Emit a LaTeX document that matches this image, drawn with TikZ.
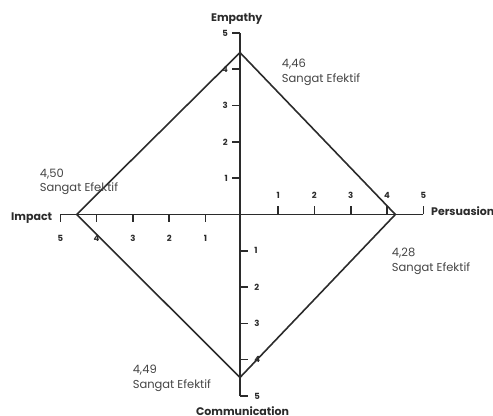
\documentclass[tikz,border=0pt]{standalone}
\usepackage{fontspec}
\setmainfont{Poppins}
\definecolor{ink}{HTML}{2B2B2B}
\definecolor{note}{HTML}{454545}
\tikzset{
  axisline/.style={line width=1.6pt, ink},
  ticklabel/.style={font=\fontsize{8.5}{9}\selectfont\bfseries, ink, inner sep=0pt},
  axislabel/.style={font=\fontsize{11}{12}\selectfont\bfseries, ink, inner sep=0pt},
  scorelabel/.style={font=\fontsize{11.5}{14.4}\selectfont, note, align=left, anchor=north west, inner sep=0pt}
}
\begin{document}
\begin{tikzpicture}[x=36.3pt,y=36.3pt]
  \useasboundingbox (-6.612,-5.551) rectangle (6.970,5.909);
  % axis ends
  \coordinate (imp) at (-4.95,0);
  \coordinate (per) at (5.05,0);
  \coordinate (emp) at (0,5);
  \coordinate (com) at (0,-5);
  \draw[axisline] (imp) -- (per);
  \draw[axisline] (com) -- (emp);
  % ticks and numbers
  \foreach \k in {1,...,5} {
    \draw[axisline] ({\k+0.05},0) -- ++(0,0.22);
    \node[ticklabel] at ({\k+0.05},0.52) {\k};
    \draw[axisline] ({-\k+0.05},0) -- ++(0,-0.22);
    \node[ticklabel] at ({-\k+0.05},-0.67) {\k};
    \draw[axisline] (0,\k) -- ++(-0.22,0);
    \node[ticklabel,anchor=east] at (-0.33,\k) {\k};
    \draw[axisline] (0,-\k) -- ++(0.22,0);
    \node[ticklabel,anchor=west] at (0.39,-\k) {\k};
  }
  % axis names
  \node[axislabel] (empname) at (-0.09,5.38) {Empathy};
  \node[axislabel] (comname) at (0.07,-5.42) {Communication};
  \node[axislabel,anchor=east] (impname) at (-5.17,-0.1) {Impact};
  \node[axislabel,anchor=west] (pername) at (5.26,0.1) {Persuasion};
  % scores
  \coordinate (vemp) at (0,4.46);
  \coordinate (vper) at (4.28,0);
  \coordinate (vcom) at (0,-4.49);
  \coordinate (vimp) at (-4.50,0);
  \draw[axisline, line join=miter] (vemp) -- (vper) -- (vcom) -- (vimp) -- cycle;
  \node[scorelabel] (semp) at (1.15,4.275) {4,46\\Sangat Efektif};
  \node[scorelabel] (simp) at (-5.52,1.262) {4,50\\Sangat Efektif};
  \node[scorelabel] (sper) at (4.18,-0.931) {4,28\\Sangat Efektif};
  \node[scorelabel] (scom) at (-2.96,-4.146) {4,49\\Sangat Efektif};
\end{tikzpicture}
\end{document}
